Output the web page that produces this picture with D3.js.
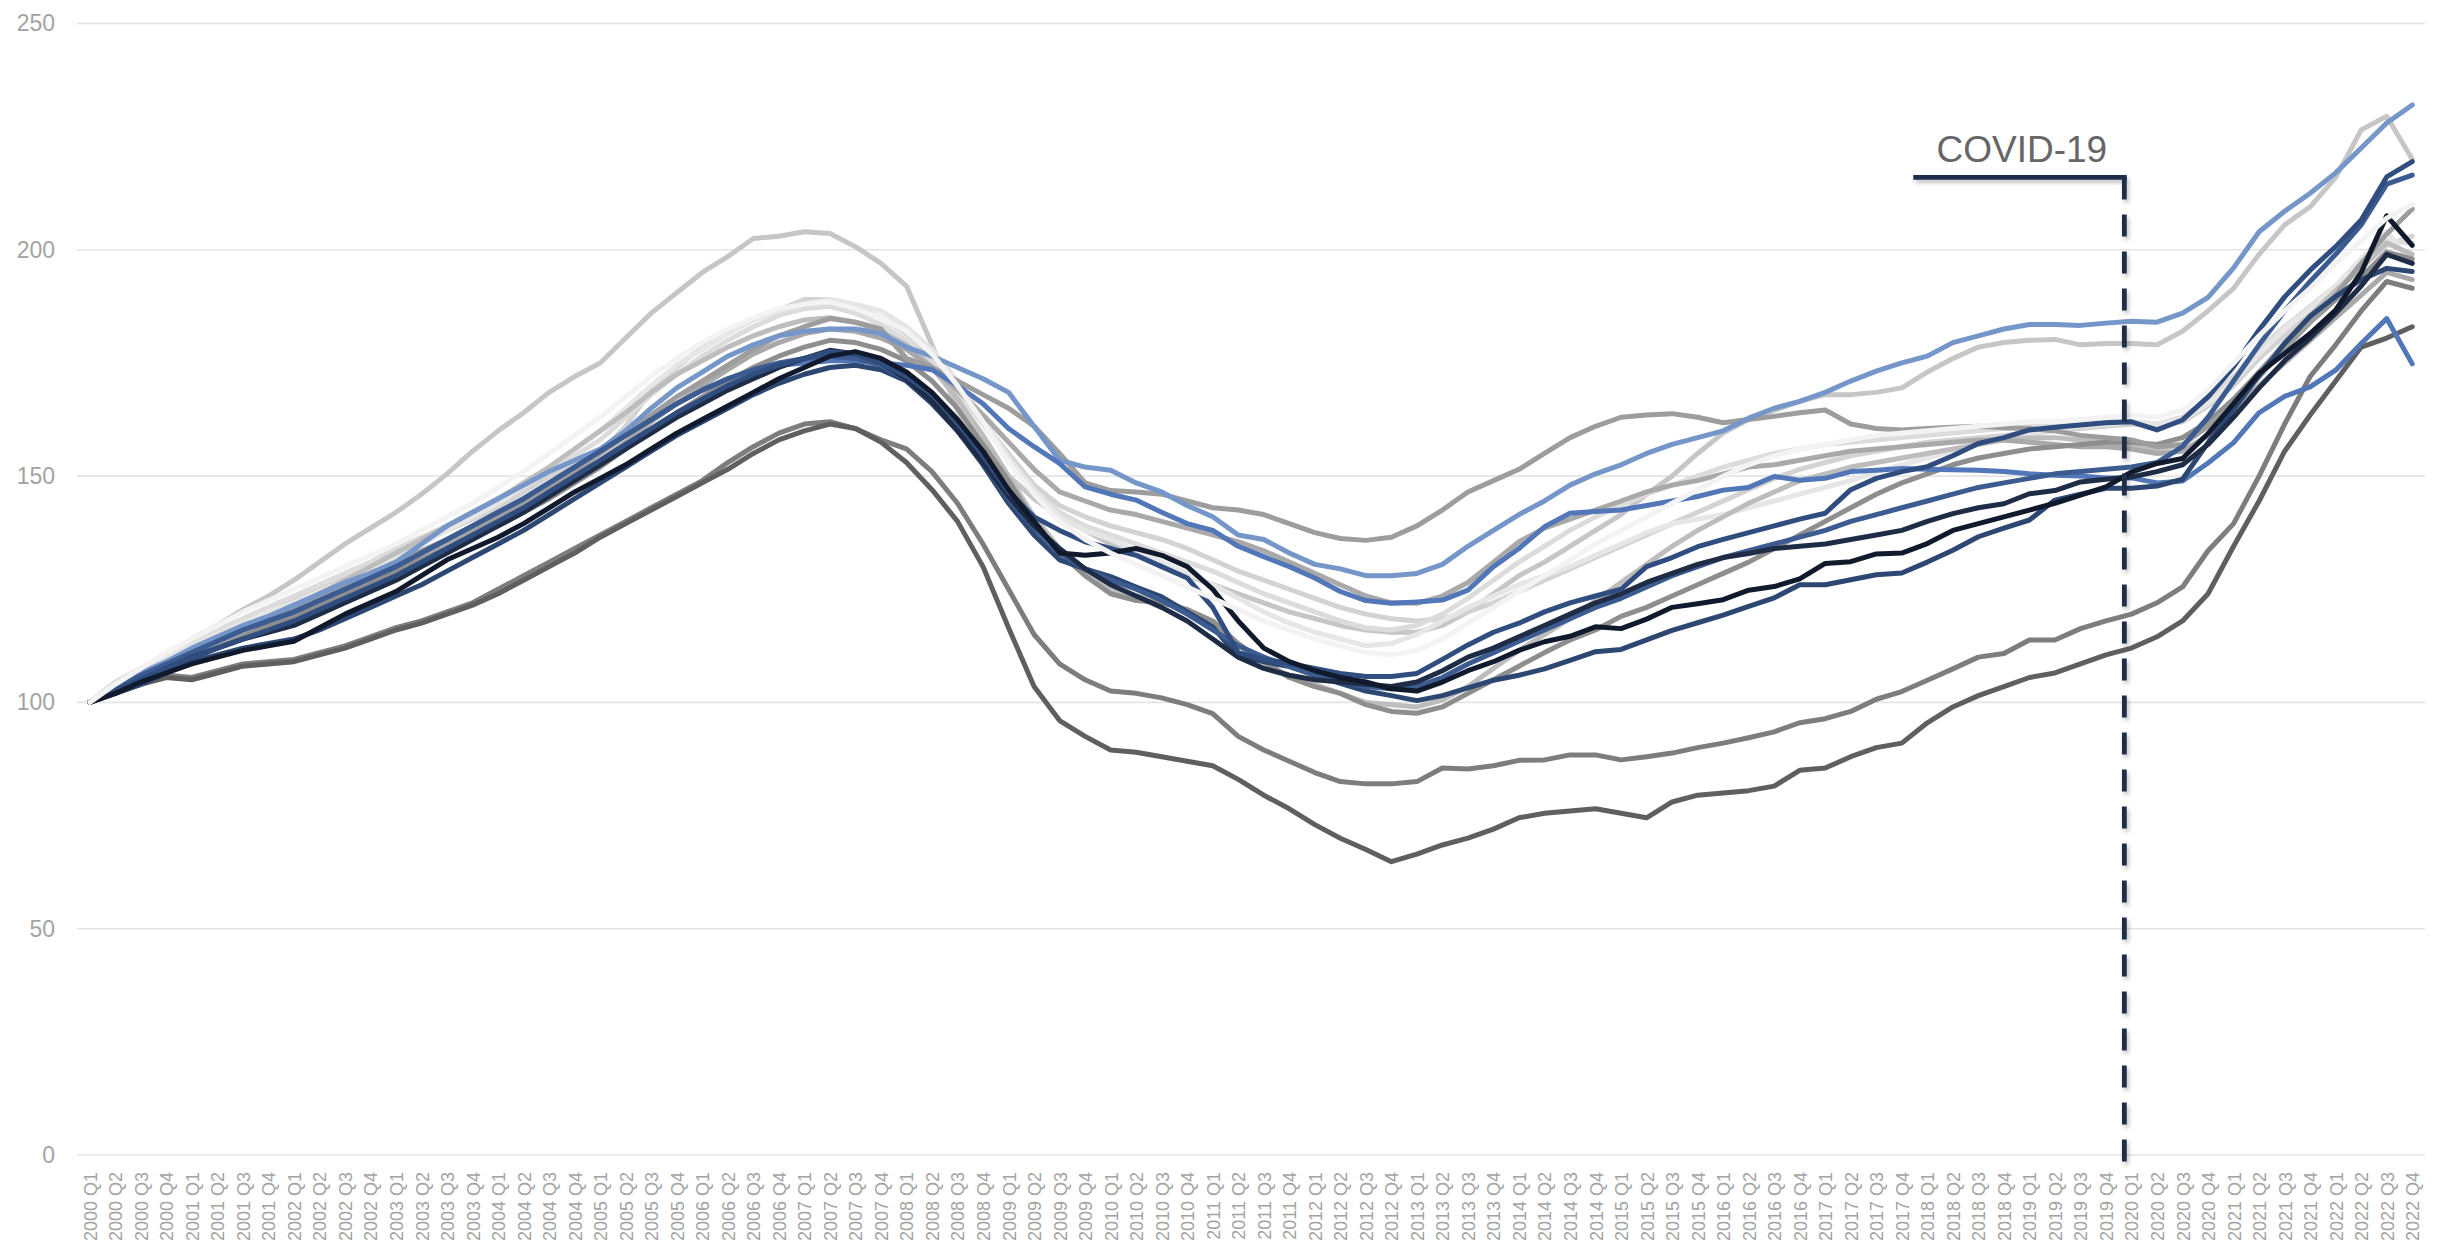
<!DOCTYPE html>
<html><head><meta charset="utf-8">
<script src="https://cdn.jsdelivr.net/npm/d3@7"></script>
<style>
body{margin:0;background:#fff;}
svg{display:block;font-family:"Liberation Sans",Arial,sans-serif;}
</style>
</head><body>
<svg id="chart" width="2446" height="1246"></svg>
<script>
// ---- categories / ticks ----
const years = ["2000","2001","2002","2003","2004","2005","2006","2007","2008","2009","2010","2011","2012","2013","2014","2015","2016","2017","2018","2019","2020","2021","2022"];
const quarters = ["Q1","Q2","Q3","Q4"];
const categories = years.flatMap(yr => quarters.map(q => yr + " " + q));
const yTicks = [0, 50, 100, 150, 200, 250];
const covidLabel = "COVID-19";
const covidCategory = "2020 Q1";

// ---- series values (index, 2000 Q1 = 100) ----
const sLB = [100,103.5,106.5,109, 112,114.5,117,119, 121.5,124,126.5,128.5, 131,135,139,142, 145,148,151,153.5, 156,160,165,169.5, 173,176.5,179,181, 182,182.5,182.5,181.5, 178.5,176.5,174,171.5, 168.5,161,153.5,152, 151.3,148.5,146.5,143.5, 141,137,136,133, 130.5,129.5,128,128, 128.5,130.5,134.5,138, 141.5,144.5,148,150.5, 152.5,155,157,158.5, 160,162.8,165,166.5, 168.5,171,173.2,175, 176.5,179.5,181,182.5, 183.5,183.5,183.3,183.8, 184.2,184,186,189.5, 196,204,208.5,212.5, 217,222.5,228,232];
const sLGC = [100,104,107.5,110.5, 114,117,120.5,123.5, 127,131,135,138.5, 142,146,150.5,155.5, 160,164,168.5,172, 175,180.5,186,190.5, 195,198.5,202.5,203, 204,203.6,200.7,197, 192,179,164.5,156, 150,145,141,138, 135,132.5,130,128, 126,124,122,120, 118.5,117,116,115.5, 115.5,117,120,124, 128,131,134.5,138, 141.5,146,150,155, 159.5,162.5,164.5,166.5, 168,168,168.5,169.5, 173,176,178.5,179.5, 180,180.2,179,179.3, 179.3,179,182,186.5, 191.5,199,205.5,209.5, 216,226.5,229.5,220];
const sGHigh = [100,103.5,106,108.5, 111,113.5,116,118.5, 121,123.5,126,128.5, 131,133.5,136,138.5, 141,144,147.5,151, 155,159,163.5,167.5, 171,174.5,178,181, 183,184.8,184,182.5, 176,174,171,168, 165,161,155,148.5, 146.8,146.5,146,144.5, 143,142.5,141.5,139.5, 137.5,136.2,135.8,136.5, 139,142.5,146.5,149, 151.5,155,158.5,161, 163,163.5,163.8,163, 161.8,162.5,163.2,164, 164.6,161.5,160.5,160.2, 160.5,160.8,161,160.7, 160.5,160,159,158.5, 158,156.5,157,161, 166,172,178,184, 190,197,203.5,209];
const sLG1 = [100,104,107,110, 113,115.5,118,120.5, 122.5,125,128,130.5, 133,135.5,138,140.5, 143,146.5,150,152.5, 155,161,169,174, 178.5,182,184.5,186.7, 189,189,187.5,185, 181.5,176,169,162, 155,148,143.5,141, 139,137.5,136,134, 131.5,129,127,125, 123,121,119.5,118.5, 118,118.5,120,122, 124.5,127,129.5,132, 134.5,137,139.5,142, 144.5,147,149.5,151.5, 153,154.5,155.5,156.5, 157.5,158,158.5,159, 159.5,160,160.5,161, 161.5,161,162,165.5, 170,176,181,186, 191,196,201,203];
const sLG2 = [100,104.5,107.5,110.5, 113.5,116,118.5,121, 123.5,126,128.5,131, 134,136.5,139,141.5, 144,147.5,151,154.5, 158,163,168,172.5, 176.5,180,183,185.5, 187,187.5,186,183.5, 180,175,168.5,161.5, 154,147,142,139, 137,135,133,131, 129,126.5,124,122, 120,118,116.5,116, 117,119.5,123,127, 131,134.5,138,141, 143.5,146,148,150, 152,153.5,155,156, 157,157.5,158,158.5, 159,159.5,160,160.5, 161,161.5,161.5,162, 162,161.5,163,167, 172,178,183,187.5, 192,197,202,201.5];
const sLG3 = [100,104,107,110, 112.5,115,117.5,120, 122,124.5,127,129.5, 132,135,138,141, 144,148,152,156, 160,165,170,174.5, 178,181.5,184.5,186.5, 188,189,188,186.5, 183,178,171,163, 154,147,141,138, 136,133.5,131,128.5, 126,123,120,117.5, 115.5,114,112.5,113, 115,118,121,123.5, 126,128,130,132.5, 135,137.5,139.5,140.5, 141.5,143,144.5,146, 147.5,149,151,152.5, 154,155.5,157,158.5, 159.5,160.5,161,161.5, 162,161.5,162.5,166, 171,177,182.5,187, 192,198,204,197];
const sWhite = [100,104,107.5,111, 114,117,120,122.5, 125,127.5,130,132.5, 135,138,141,144, 147.5,151,155,159, 163,167.5,172,176, 179.5,182.5,185,187, 188,188.5,187,185, 182,177,170,162, 153,146,140,136, 133,130.5,128,125.5, 123,120.5,118,116, 114,112.5,111,110.5, 111.5,114,117.5,121, 124.5,128,131.5,135, 138,141,144,147, 150,152.5,154.5,156, 157,158,159,159.5, 160,160.5,161,161.5, 162,162,162.5,163, 163.5,163,164.5,169, 175,181,186.5,191.5, 197,202,207,210];
const sG3 = [100,103.5,106,108.5, 111,113,115,117.5, 120,122.5,125,127.5, 130,132.5,135,137.5, 140,143,146.5,150, 153.5,157.5,162,166, 170,173.5,177,179.5, 181.5,182.5,182,180.5, 178,174,169,163.5, 157.5,151.5,146.5,144.5, 142.5,141.5,140,138.5, 137,135.5,133.5,131, 128.5,126,123.5,122, 121.9,123.5,126.5,131, 135.5,138.5,140.5,142.5, 144.5,146.5,148,149, 150.5,152,152.5,153.5, 154.5,155.5,156,156.5, 157,157.5,158,158, 157.5,157,156.5,156.5, 156,155,155.5,159, 164,170,175,180, 185,190,195,193.4];
const sG4 = [100,103,105.5,107.5, 109.5,112,114.5,117, 119,121.5,124,126.5, 129,131.5,134,136.5, 139,142,145,148.5, 152,156,160,164, 167.5,171,174,176.5, 178.5,180,179.5,178, 175.5,171,165,157, 149,140,133,128, 124,122.5,122,120.5, 118,113,109,105.5, 103.5,102,99.5,98, 97.6,99,102,105, 108,111,113.8,116, 119,121,123.5,126, 128.5,131,134,137, 140,143,146,148.5, 150.5,152.5,154,155, 156,156.5,157,157.5, 157.5,157,158.5,162, 167,173,178.5,184, 189,194,199.5,198];
const sLG4 = [100,103.5,106.5,109, 111.5,114,116.5,119, 121,124,127,130, 133,136,139,142, 145,148.5,152,156, 160,164,168.5,172.5, 175.5,178.5,181,183, 184.5,185,184,182, 179,174,167,159, 150,141,134,129, 125,123.5,122.5,120.5, 117,112.5,108.5,106, 104,102,100,99.5, 99,100.5,103.5,107.5, 111.5,115,118.5,122.5, 126.5,130.5,134.5,138, 141,144,146.5,149, 150.5,152,153,154, 155,156,157,158, 158.5,158.5,158,157.5, 157,156,157,161, 166.5,173,179.5,185.5, 191,196,201.5,199];
const sDGA = [100,102,104,105.5, 105,106.5,108,108.5, 109,110.5,112,114, 116,117.5,119.5,121.5, 124,127,130,133, 136.5,139.5,142.5,145.5, 148.5,151.5,155,158, 160,161.5,160.5,157.5, 153,147,140,130, 116.5,103.5,96,92.5, 89.5,89,88,87, 86,83,79.5,76.5, 73,70,67.5,64.8, 66.5,68.5,70,72, 74.5,75.5,76,76.5, 75.5,74.5,78,79.5, 80,80.5,81.5,85, 85.5,88,90,91, 95.5,99,101.5,103.5, 105.5,106.5,108.5,110.5, 112,114.5,118,124, 134.5,144.5,155.5,163.5, 171,178.5,180.5,183];
const sDGB = [100,102.5,105,106, 105.5,107,108.5,109, 109.5,111,112.5,114.5, 116.5,118,120,122, 125,128,131,134, 137,140,143,146, 149,153,156.5,159.5, 161.5,162,160.5,158, 156,151,144,135, 125,115,108.5,105, 102.5,102,101,99.5, 97.5,92.5,89.5,87, 84.5,82.5,82,82, 82.5,85.5,85.3,86, 87.2,87.3,88.4,88.4, 87.3,88,88.8,90, 91,92.2,93.5,95.5, 96.4,98,100.7,102.4, 104.9,107.4,110,110.8, 113.8,113.8,116.3,118, 119.5,122,125.5,133.5, 139.5,150,161.5,172, 179,186.5,193,191.5];
const sK1 = [100,102,104.5,106.5, 108.5,110,111.5,112.5, 113.5,116.5,119.5,122, 124.5,128,131.5,134, 136.5,139.5,143,146.5, 149.5,152.5,156,159.5, 162.5,165.5,168.5,171.5, 174,176.5,177.5,176, 173,168.5,162.5,155.5, 147,140,133,132.5, 133,134,132.5,130, 125,118,112,109, 107,105.5,104.5,103, 102.5,104.5,107,109, 111.5,113.4,114.6,116.7, 116.3,118.4,121,121.8, 122.7,124.8,125.6,127.3, 130.7,131.1,132.8,133, 135.1,138,139.5,141, 142.5,144,145.8,147.6, 150.9,152.8,153.9,159.4, 166,172.7,177.1,181.5, 186.7,195,207.5,201];
const sK2 = [100,102.5,105,107.5, 110,112,114,115.5, 117,119.5,122,124.5, 127,130,133,136, 139,142,145.5,149, 152.5,156,159.5,163, 166,169,171.5,174, 176,177.8,177,175, 171.5,166.5,160,153, 145.5,139,134,129.5, 126,123.5,121,118, 114,110,107.5,106, 105,104.5,104,103.5, 104.5,107,110,112, 114.5,117,119.5,122, 124,126.5,128.5,130.5, 132,132.9,134,134.5, 135,136,137,138, 140,141.7,143,143.9, 146.1,146.8,148.7,149.3, 149.8,151,152.5,157, 163,169.5,175.5,180.5, 186,192,199,197];
const sN1 = [100,102.5,105,107.5, 110,112,114,116, 118,120.5,123,125.5, 128,131,134,137, 140,143,146.5,150, 153.5,157,160.5,164, 167,170,172.5,174.5, 176,177.5,177,175, 172,168,162,154.5, 146.5,141,138,135.5, 134,132.5,130,127.5, 121,111,109.5,108.6, 107.5,106.4,105.7,105.7, 106.4,109.5,112.7,115.5, 117.5,120,122,123.5, 125,130,132,134.4, 136,137.5,139,140.5, 141.8,147,149.5,151, 152.1,154.5,157.2,158.5, 160.2,160.8,161.3,161.8, 162,160.2,162.4,167.5, 174.2,182.3,189.6,195.5, 200.7,206.6,216.1,219.5];
const sN2 = [100,103,106,108.5, 111,113.5,116,118, 120,122.5,125,127.5, 130,133,136,139, 142,145,148.5,152, 155.5,159,162.5,166, 169,171.5,173.5,175, 176,176.5,176,174.5, 171.5,167,160.5,153, 145,138.5,133,129.5, 127,125,122.5,119.5, 116,112.5,110,108, 106,104.5,103.5,103, 103.5,105.5,108.5,111, 113.5,116,118.5,121, 123,125.5,128,130, 132,133.5,135,136.5, 138,140,141.5,143, 144.5,146,147.5,148.5, 149.5,150.5,151,151.5, 152,153,156.5,163, 171,179,186.5,193, 199,205.5,214.5,216.5];
const sN3 = [100,102,104,106.5, 109,110.5,112,113, 114,116,118.5,121, 123.5,126,129,132, 135,138,141.5,145, 148.5,152,155.5,159, 162,165,168,170.5, 172.5,174,174.5,173.5, 171,166,160,152.5, 144,137,131.5,129.5, 127.8,125.5,123.3,120, 116.7,110.1,109,107.9, 106,104.2,102.5,101.5, 100.4,101.5,103.2,104.9, 106,107.4,109.3,111.2, 111.7,113.8,115.9,117.6, 119.3,121.2,123.1,126, 126,127.1,128.2,128.6, 131,133.6,136.6,138.5, 140.3,144.7,146,147.3, 147.3,147.8,149.3,157.4, 164.8,172.2,179.3,185.3, 189.7,193.4,195.9,195.2];
const sB1 = [100,103,106,108.5, 111,113.5,116,118, 120,122.5,125,127.5, 130,133,136,139, 142,145,148.5,152, 155.5,159,162.5,166, 169,171.5,173.5,174.5, 175,175.5,175.5,175, 174.5,173.5,170,166, 160.5,156.5,152.8,147.6, 146,144.7,142,139.5, 138,134.5,132.2,130, 127.5,124.5,122.5,121.9, 122.2,122.6,124.8,130, 134,138.8,141.8,142.2, 142.5,143.5,144.5,145.5, 146.9,147.5,149.9,149.1, 149.5,151,151.3,151.7, 151.5,151.4,151.3,151, 150.5,150.2,150,149.6, 149.6,148.5,148.9,152.9, 157.4,164,167.6,169.7, 173.4,179.3,184.8,174.8];

// draw order (first = bottom)
const series = [
  {name:"Series 1",  color:"#c6c6c6", values:sLGC},
  {name:"Series 2",  color:"#d3d3d3", values:sLG1},
  {name:"Series 3",  color:"#dcdcdc", values:sLG2},
  {name:"Series 4",  color:"#e6e6e6", values:sLG3},
  {name:"Series 5",  color:"#bdbdbd", values:sLG4},
  {name:"Series 6",  color:"#a9a9a9", values:sG3},
  {name:"Series 7",  color:"#8e8e8e", values:sG4},
  {name:"Series 8",  color:"#9d9d9d", values:sGHigh},
  {name:"Series 9",  color:"#7d7d7d", values:sDGB},
  {name:"Series 10", color:"#5f5f5f", values:sDGA},
  {name:"Series 11", color:"#7596c9", values:sLB},
  {name:"Series 12", color:"#5277b8", values:sB1},
  {name:"Series 13", color:"#2d4773", values:sN3},
  {name:"Series 14", color:"#3c5c91", values:sN2},
  {name:"Series 15", color:"#1e2c46", values:sK2},
  {name:"Series 16", color:"#304d7f", values:sN1},
  {name:"Series 17", color:"#111a2c", values:sK1},
  {name:"Series 18", color:"#f3f3f3", values:sWhite}
];

// ---- scales ----
const svg = d3.select("#chart");
const x = d3.scalePoint().domain(categories).range([77, 2425]).padding(0.5);
const y = d3.scaleLinear().domain([0, 250]).range([1155, 23.5]);

// gridlines
svg.append("g").selectAll("line").data(yTicks).join("line")
  .attr("x1", 77).attr("x2", 2425)
  .attr("y1", d => y(d)).attr("y2", d => y(d))
  .attr("stroke", "#e4e4e4").attr("stroke-width", 1.6);

// y axis
const yAxis = svg.append("g").attr("transform", "translate(77,0)")
  .call(d3.axisLeft(y).tickValues(yTicks).tickSize(0).tickPadding(22));
yAxis.select(".domain").remove();
yAxis.selectAll("text").attr("font-size", 23).attr("fill", "#a3a3a3")
  .attr("font-family", "Liberation Sans, Arial, sans-serif");

// x axis
const xAxis = svg.append("g").attr("transform", "translate(0,1155)")
  .call(d3.axisBottom(x).tickSize(0));
xAxis.select(".domain").remove();
xAxis.selectAll("text")
  .attr("transform", "rotate(-90)")
  .attr("x", -17).attr("y", 0).attr("dy", "0.36em")
  .attr("text-anchor", "end")
  .attr("font-size", 18).attr("fill", "#a3a3a3")
  .attr("font-family", "Liberation Sans, Arial, sans-serif");

// lines
const line = d3.line().x((d, i) => x(categories[i])).y(d => y(d));
svg.append("g").selectAll("path").data(series).join("path")
  .attr("d", d => line(d.values))
  .attr("fill", "none")
  .attr("stroke", d => d.color)
  .attr("stroke-width", 5)
  .attr("stroke-linejoin", "round")
  .attr("stroke-linecap", "round");

// COVID annotation
const defs = svg.append("defs");
const f = defs.append("filter").attr("id", "sh").attr("x", "-20%").attr("y", "-20%").attr("width", "140%").attr("height", "140%");
f.append("feDropShadow").attr("dx", 2).attr("dy", 3).attr("stdDeviation", 2)
  .attr("flood-color", "#000").attr("flood-opacity", 0.25);

const step = x.step();
const xC = x(covidCategory) - 0.28 * step;
const xStart = x("2017 Q4") + 0.45 * step;
const yBar = y(216);
const ann = svg.append("g").attr("filter", "url(#sh)");
ann.append("line")
  .attr("x1", xC).attr("x2", xC)
  .attr("y1", yBar).attr("y2", y(0) + 7)
  .attr("stroke", "#1f2d4a").attr("stroke-width", 4.8)
  .attr("stroke-dasharray", "22,15");
ann.append("line")
  .attr("x1", xStart).attr("x2", xC + 2.4)
  .attr("y1", yBar).attr("y2", yBar)
  .attr("stroke", "#1f2d4a").attr("stroke-width", 4.8);
svg.append("text")
  .attr("x", (xStart + xC) / 2 + 3).attr("y", yBar - 15)
  .attr("text-anchor", "middle")
  .attr("font-size", 37).attr("fill", "#666666")
  .attr("font-family", "Liberation Sans, Arial, sans-serif")
  .text(covidLabel);
</script>
</body></html>
